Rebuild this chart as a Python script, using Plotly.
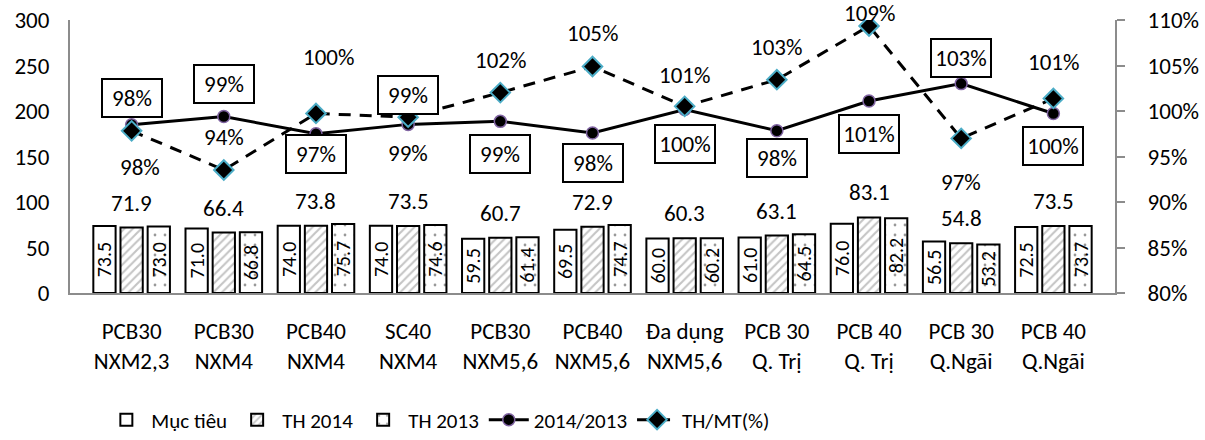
import plotly.graph_objects as go

# Product groups (two-line category labels)
categories = [
    "PCB30<br>NXM2,3", "PCB30<br>NXM4", "PCB40<br>NXM4", "SC40<br>NXM4",
    "PCB30<br>NXM5,6", "PCB40<br>NXM5,6", "Đa dụng<br>NXM5,6", "PCB 30<br>Q. Trị",
    "PCB 40<br>Q. Trị", "PCB 30<br>Q.Ngãi", "PCB 40<br>Q.Ngãi",
]

# Bar series (left axis)
muc_tieu = [73.5, 71.0, 74.0, 74.0, 59.5, 69.5, 60.0, 61.0, 76.0, 56.5, 72.5]
th_2014 = [71.9, 66.4, 73.8, 73.5, 60.7, 72.9, 60.3, 63.1, 83.1, 54.8, 73.5]
th_2013 = [73.0, 66.8, 75.7, 74.6, 61.4, 74.7, 60.2, 64.5, 82.2, 53.2, 73.7]

# Ratio series in percent (right axis)
ratio_14_13 = [98.49, 99.40, 97.49, 98.53, 98.86, 97.59, 100.17, 97.83, 101.09, 103.01, 99.73]
ratio_th_mt = [97.82, 93.52, 99.73, 99.32, 102.02, 104.89, 100.51, 103.44, 109.34, 96.99, 101.38]

# Label placement (pixel offsets from each point)
ratio_14_13_yshift = [27, 32, -20, 29, -33, -30, -35, -27, -33, 26, -33]
ratio_th_mt_yshift = [-36, 33, 56, -36, 33, 34, 31, 33, 13, -44, 36]
ratio_th_mt_xshift = [8, 0, 13, 0, 0, 0, 0, 0, 0, 0, 0]

FONT = "Carlito, Lato, sans-serif"
AXIS_GREY = "#8c8c8c"
LABEL_SIZE = 23

fig = go.Figure()

fig.add_trace(go.Bar(
    name="Mục tiêu", x=categories, y=muc_tieu,
    marker=dict(color="white", line=dict(color="black", width=2)),
    texttemplate="%{y:.1f}", textposition="inside", insidetextanchor="middle",
    textangle=-90, constraintext="none",
    insidetextfont=dict(family=FONT, size=20, color="black"),
))
fig.add_trace(go.Bar(
    name="TH 2014", x=categories, y=th_2014,
    marker=dict(color="white", line=dict(color="black", width=2),
                pattern=dict(shape="/", fgcolor="#8a8a8a", bgcolor="white",
                             size=6, solidity=0.35)),
))
fig.add_trace(go.Bar(
    name="TH 2013", x=categories, y=th_2013,
    marker=dict(color="white", line=dict(color="black", width=2),
                pattern=dict(shape=".", fgcolor="#333333", bgcolor="white",
                             size=10, solidity=0.06)),
    texttemplate="%{y:.1f}", textposition="inside", insidetextanchor="middle",
    textangle=-90, constraintext="none",
    insidetextfont=dict(family=FONT, size=20, color="black"),
))

fig.add_trace(go.Scatter(
    name="2014/2013", x=categories, y=ratio_14_13, yaxis="y2",
    mode="lines+markers",
    line=dict(color="black", width=3),
    marker=dict(symbol="circle", size=12, color="black",
                line=dict(color="#8064a2", width=1.5)),
))
fig.add_trace(go.Scatter(
    name="TH/MT(%)", x=categories, y=ratio_th_mt, yaxis="y2",
    mode="lines+markers",
    line=dict(color="black", width=3, dash="12px,9px"),
    marker=dict(symbol="diamond", size=15, color="black",
                line=dict(color="#4bacc6", width=2)),
))

annotations = []
# Values of TH 2014 above each middle bar
for cat, v in zip(categories, th_2014):
    annotations.append(dict(
        x=cat, y=v, xref="x", yref="y", text=f"{v:.1f}", showarrow=False,
        yanchor="middle", yshift=25,
        font=dict(family=FONT, size=LABEL_SIZE, color="black"),
    ))
# Boxed labels for 2014/2013
for cat, v, dy in zip(categories, ratio_14_13, ratio_14_13_yshift):
    annotations.append(dict(
        x=cat, y=v, xref="x", yref="y2", text=f"{v:.0f}%", showarrow=False,
        yanchor="middle", yshift=dy, width=56, height=34,
        bordercolor="black", borderwidth=2, bgcolor="white", borderpad=1,
        font=dict(family=FONT, size=LABEL_SIZE, color="black"),
    ))
# Plain labels for TH/MT(%)
for cat, v, dy, dx in zip(categories, ratio_th_mt, ratio_th_mt_yshift, ratio_th_mt_xshift):
    annotations.append(dict(
        x=cat, y=v, xref="x", yref="y2", text=f"{v:.0f}%", showarrow=False,
        yanchor="middle", yshift=dy, xshift=dx,
        font=dict(family=FONT, size=LABEL_SIZE, color="black"),
    ))

fig.update_layout(
    width=1205, height=440, autosize=False,
    margin=dict(l=70, r=90, t=20, b=147, autoexpand=False),
    paper_bgcolor="white", plot_bgcolor="white",
    font=dict(family=FONT, size=LABEL_SIZE, color="black"),
    barmode="group", bargap=0.116, bargroupgap=0.18,
    showlegend=True,
    legend=dict(orientation="h", x=0.03, xanchor="left",
                yref="container", y=1 - 420 / 440, yanchor="middle",
                font=dict(family=FONT, size=21, color="black"),
                traceorder="normal", itemwidth=40),
    xaxis=dict(showline=True, linecolor=AXIS_GREY, linewidth=2, showgrid=False,
               automargin=False, ticks="", ticklabelstandoff=16,
               tickfont=dict(family=FONT, size=LABEL_SIZE)),
    yaxis=dict(range=[0, 300], dtick=50, showline=True, linecolor=AXIS_GREY, linewidth=2,
               showgrid=False, zeroline=False, ticks="", ticklabelstandoff=14,
               automargin=False, tickfont=dict(family=FONT, size=LABEL_SIZE)),
    yaxis2=dict(range=[80, 110], dtick=5, ticksuffix="%", overlaying="y", side="right",
                showline=True, linecolor=AXIS_GREY, linewidth=2, showgrid=False,
                zeroline=False, ticks="outside", ticklen=8, tickcolor=AXIS_GREY,
                tickwidth=2, ticklabelstandoff=18, automargin=False,
                tickfont=dict(family=FONT, size=LABEL_SIZE)),
    annotations=annotations,
)

fig.write_html("out.html")
